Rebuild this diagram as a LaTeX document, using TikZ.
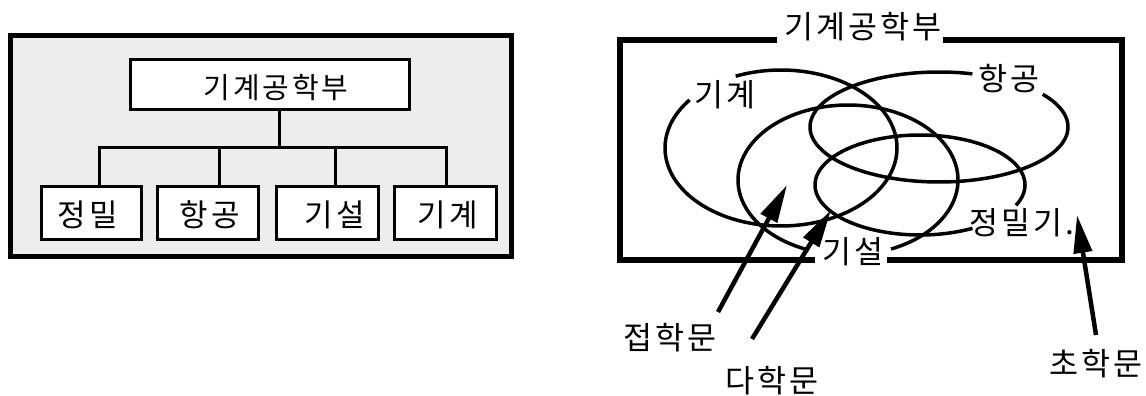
\documentclass[tikz,border=0pt]{standalone}
\usepackage{fontspec}
\newfontfamily\kr[LetterSpace=10]{Noto Sans CJK KR}
\usetikzlibrary{arrows.meta}
\begin{document}
\begin{tikzpicture}[x=1pt,y=-1pt,
 lbox/.style={draw,line width=3pt,fill=white,inner sep=0pt,minimum height=53pt,font=\kr\fontsize{31}{31}\selectfont},
 topbox/.style={draw,line width=3pt,fill=white,inner sep=0pt,minimum width=279pt,minimum height=49pt,font=\kr\fontsize{29}{29}\selectfont},
 conn/.style={line width=3pt},
 lab/.style={inner sep=0pt,font=\kr\fontsize{31.5}{31.5}\selectfont},
 ell/.style={line width=3.5pt},
 frame/.style={line width=6pt},
 arr/.style={line width=4.5pt,-{Triangle[length=38pt,width=18pt]}}]
\useasboundingbox (0,0) rectangle (1146,396);
% ---------- left panel ----------
\draw[line width=5pt,fill=black!7] (10,36) rectangle (511,256);
\node[topbox] (top) at (269.5,84.5) {};
\node[inner sep=0pt,font=\kr\fontsize{29}{29}\selectfont] (toptext) at (276,88) {기계공학부};
\node[lbox,minimum width=100pt] (b1) at (91,212.5) {};
\node[lbox,minimum width=101pt] (b2) at (207.5,212.5) {};
\node[lbox,minimum width=102pt] (b3) at (327,212.5) {};
\node[lbox,minimum width=102pt] (b4) at (445,212.5) {};
\node[inner sep=0pt,font=\kr\fontsize{31}{31}\selectfont] (t1) at (88,215) {정밀};
\node[inner sep=0pt,font=\kr\fontsize{31}{31}\selectfont] (t2) at (210,215) {항공};
\node[inner sep=0pt,font=\kr\fontsize{31}{31}\selectfont] (t3) at (335,215) {기설};
\node[inner sep=0pt,font=\kr\fontsize{31}{31}\selectfont] (t4) at (448,215) {기계};
\coordinate (hub) at (279,147);
\coordinate (s1) at (99,147);
\coordinate (s2) at (219,147);
\coordinate (s3) at (335,147);
\coordinate (s4) at (446,147);
\draw[conn] (hub |- top.south) -- (hub);
\draw[conn] (s1 |- b1.north) -- (s1) -- (s4) -- (s4 |- b4.north);
\draw[conn] (s2) -- (s2 |- b2.north);
\draw[conn] (s3) -- (s3 |- b3.north);
% ---------- right panel ----------
\node[lab] (title) at (863,27) {기계공학부};
\draw[frame] (777,40) -- (620,40) -- (620,260) -- (815,260);
\draw[frame] (887,260) -- (1122,260) -- (1122,40) -- (943,40);
% ellipses with gaps for labels
\draw[ell] plot[domain=247:578,samples=150,smooth] ({781+116*cos(\x)},{148+78*sin(\x)});
\draw[ell] plot[domain=323.5:645,samples=150,smooth] ({939+129*cos(\x)},{127+55*sin(\x)});
\draw[ell] plot[domain=111:427,samples=150,smooth] ({848+110*cos(\x)},{180+75*sin(\x)});
\draw[ell] plot[domain=60:384,samples=150,smooth] ({920+105*cos(\x)},{185+50*sin(\x)});
\node[lab] (lgi) at (725,95) {기계};
\node[lab] (lhang) at (1009,79) {항공};
\node[lab] (lgis) at (853,252) {기설};
\node[lab] (ljm) at (1022,223) {정밀기.};
% arrows
\node[lab] (jeop) at (670,338) {접학문};
\node[lab] (da) at (772,381) {다학문};
\node[lab] (cho) at (1096,364) {초학문};
\coordinate (tail1) at (718,312);
\coordinate (tip1) at (787,185);
\coordinate (tail2) at (752,339);
\coordinate (tip2) at (831,210);
\coordinate (tail3) at (1096,335);
\coordinate (tip3) at (1077,215);
\draw[arr] (tail1) -- (tip1);
\draw[arr] (tail2) -- (tip2);
\draw[arr] (tail3) -- (tip3);
\end{tikzpicture}
\end{document}
